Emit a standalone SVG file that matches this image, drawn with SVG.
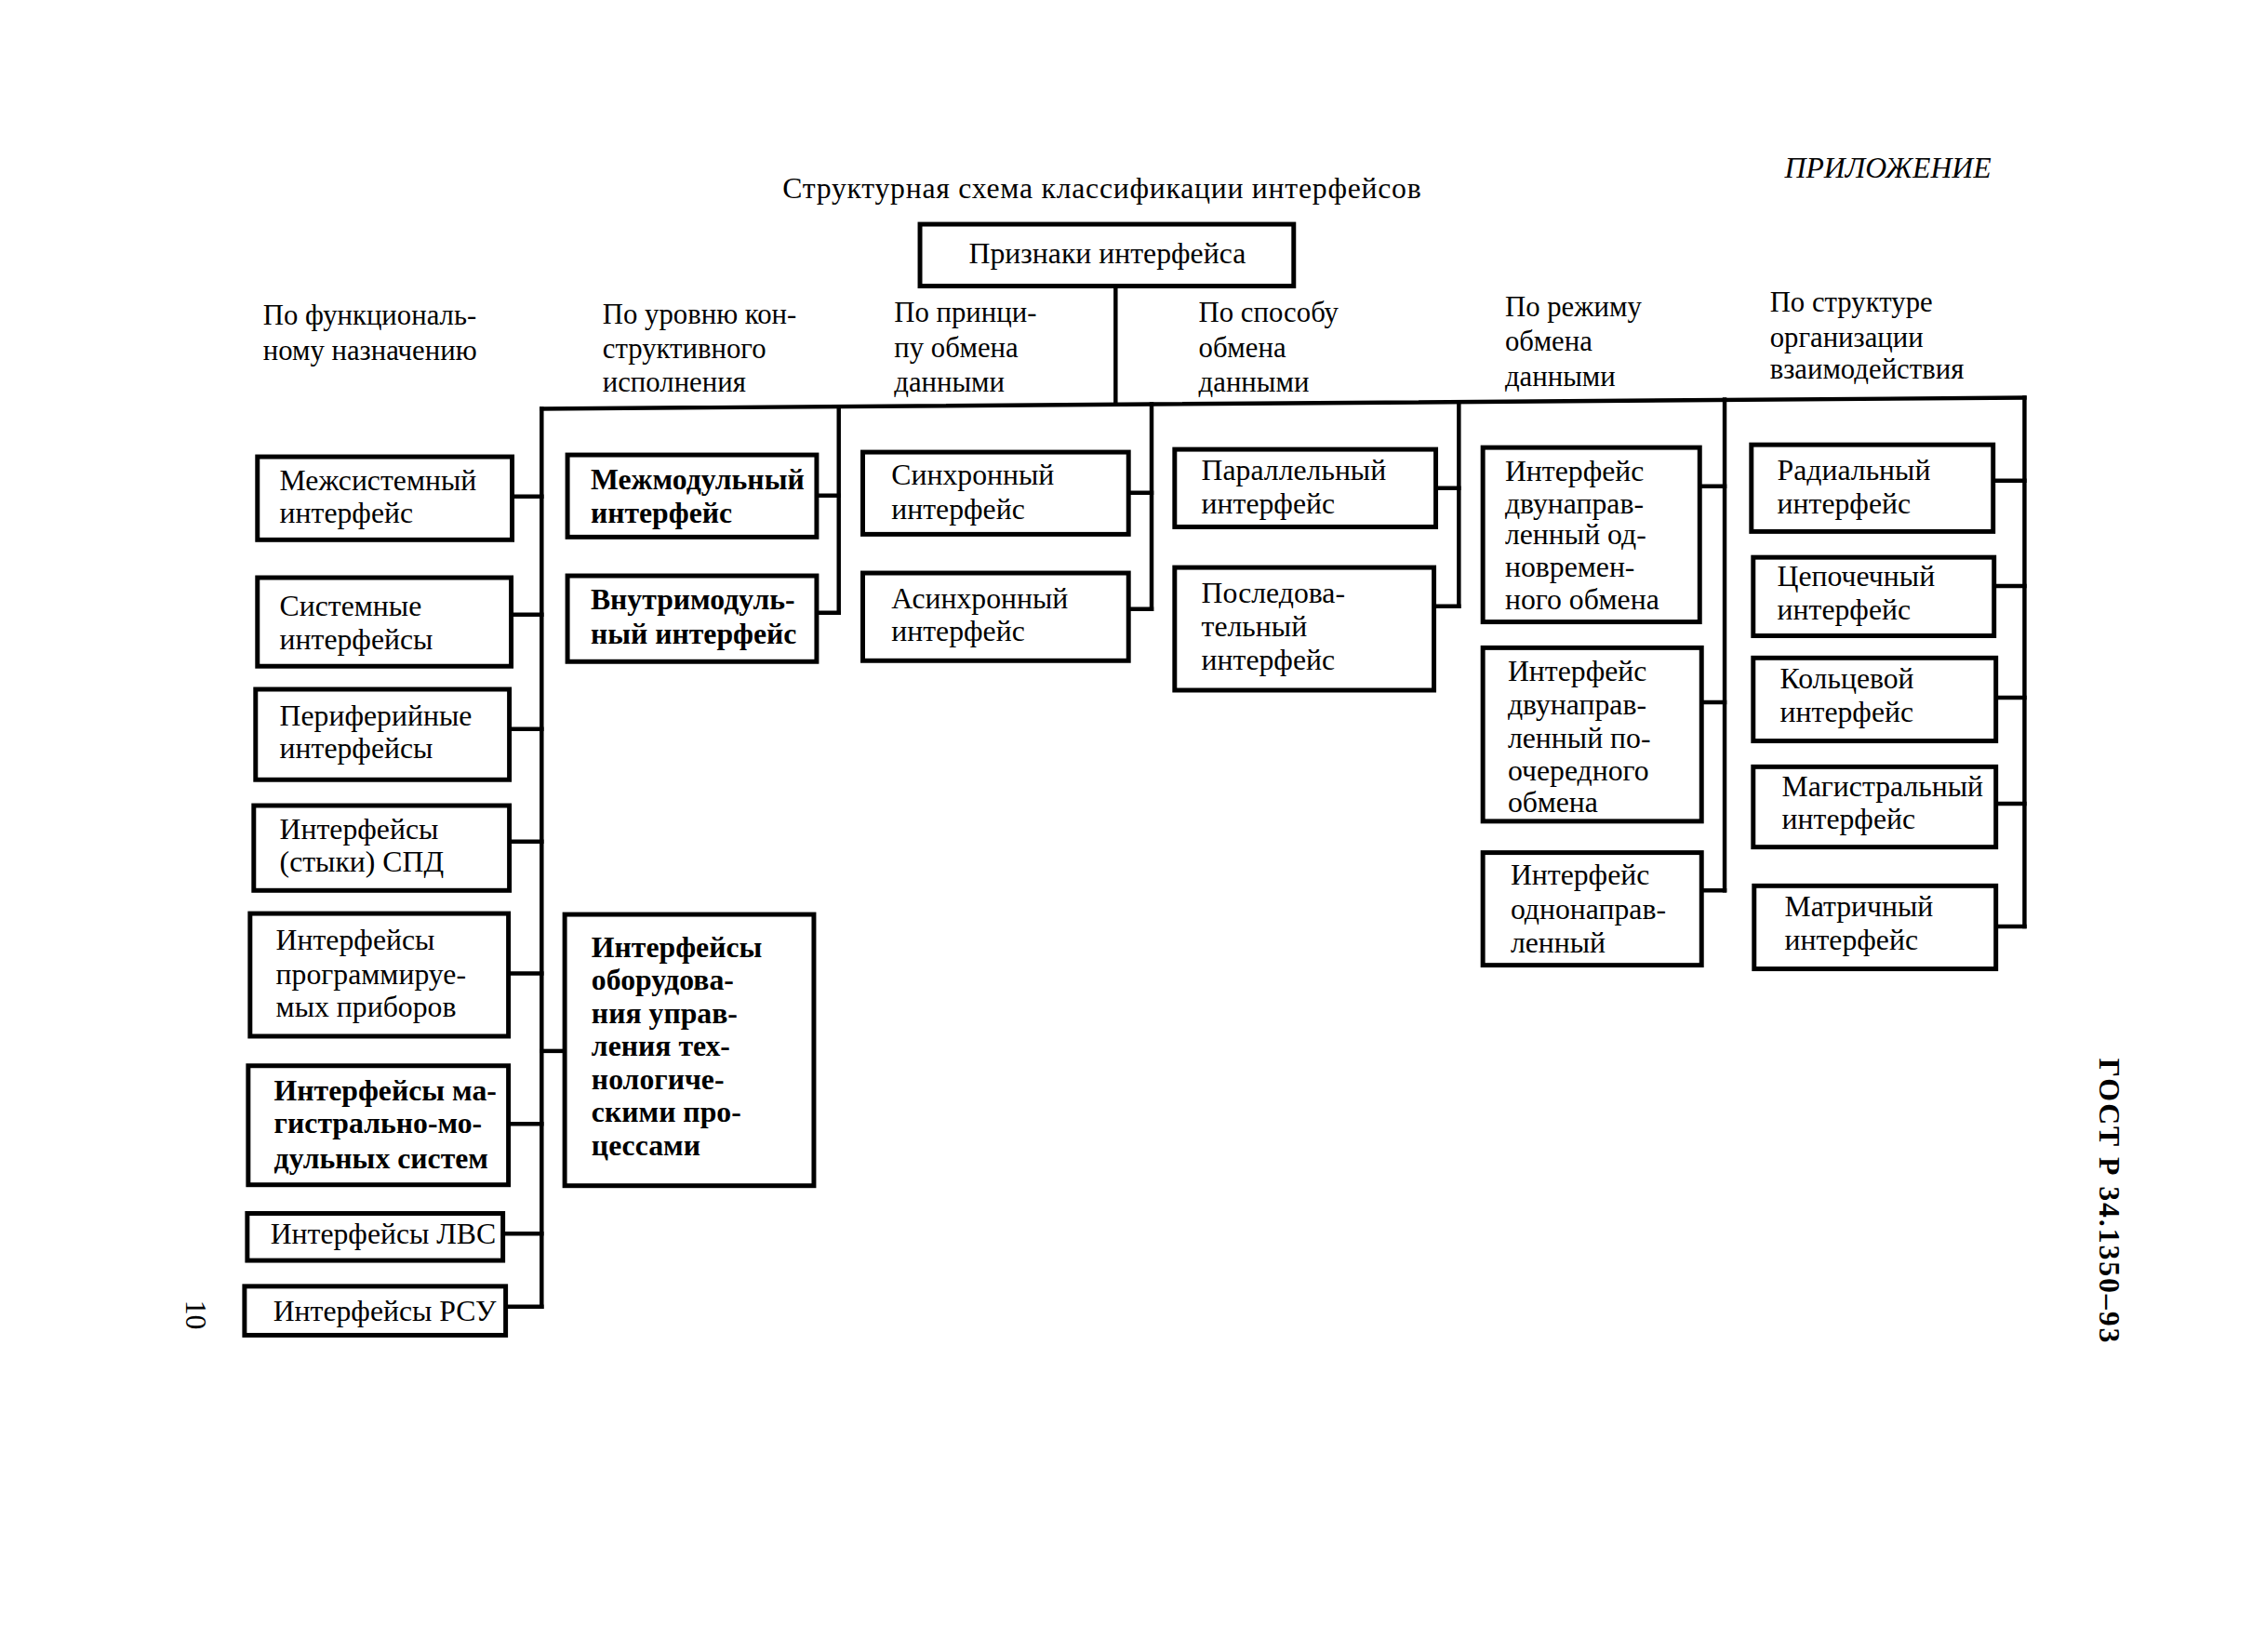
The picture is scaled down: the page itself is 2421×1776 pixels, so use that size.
<svg xmlns="http://www.w3.org/2000/svg" width="2421" height="1776" viewBox="0 0 2421 1776">
<style>
.box{fill:#fff;stroke:#000;stroke-width:5}
.c{fill:none;stroke:#000;stroke-width:4.5;stroke-linejoin:miter;stroke-linecap:square}
text{font-family:"Liberation Serif","Times New Roman",serif;font-size:32px;fill:#000}
.b{font-weight:bold}
.lbl{font-size:31px}
</style>
<rect width="2421" height="1776" fill="#fff"/>
<g id="diagram" transform="scale(0.992)">
<text id="title" x="848" y="215" textLength="692">Структурная схема классификации интерфейсов</text>
<text id="appendix" x="1934" y="193" font-style="italic" font-size="33">ПРИЛОЖЕНИЕ</text>
<text id="pagenum" transform="translate(213,1425) rotate(90)" x="0" y="11" text-anchor="middle">10</text>
<text id="gost" transform="translate(2287,1301) rotate(90)" x="0" y="12" text-anchor="middle" class="b" font-size="35" textLength="308">ГОСТ Р 34.1350–93</text>

<g id="connectors">
<path class="c" d="M1209,310 V438"/>
<path class="c" d="M587,443 L2194,431"/>
<path class="c" d="M587,443 V1416"/>
<path class="c" d="M909,441 V664"/>
<path class="c" d="M1248,438 V660"/>
<path class="c" d="M1581,436 V657"/>
<path class="c" d="M1869,433 V965"/>
<path class="c" d="M2194,431 V1004"/>
<path class="c" d="M555,538 H587 M554,666 H587 M552,790 H587 M552,912 H587 M551,1055 H587 M551,1218 H587 M545,1337 H587 M548,1416 H587"/>
<path class="c" d="M612,1139 H587"/>
<path class="c" d="M885,537 H909 M885,664 H909"/>
<path class="c" d="M1223,534 H1248 M1223,660 H1248"/>
<path class="c" d="M1556,529 H1581 M1554,657 H1581"/>
<path class="c" d="M1842,527 H1869 M1844,761 H1869 M1844,965 H1869"/>
<path class="c" d="M2160,521 H2194 M2161,635 H2194 M2163,756 H2194 M2163,871 H2194 M2163,1004 H2194"/>
</g>

<g id="root">
<rect class="box" x="997" y="243" width="405" height="67"/>
<text x="1200" y="285" text-anchor="middle">Признаки интерфейса</text>
</g>

<g id="cat1"><text class="lbl" x="285" y="352">По функциональ-<tspan x="285" y="390">ному назначению</tspan></text></g>
<g id="cat2"><text class="lbl" x="653" y="351">По уровню кон-<tspan x="653" y="388">структивного</tspan><tspan x="653" y="424">исполнения</tspan></text></g>
<g id="cat3"><text class="lbl" x="969" y="349">По принци-<tspan x="969" y="387">пу обмена</tspan><tspan x="969" y="424">данными</tspan></text></g>
<g id="cat4"><text class="lbl" x="1299" y="349">По способу<tspan x="1299" y="387">обмена</tspan><tspan x="1299" y="424">данными</tspan></text></g>
<g id="cat5"><text class="lbl" x="1631" y="343">По режиму<tspan x="1631" y="380">обмена</tspan><tspan x="1631" y="418">данными</tspan></text></g>
<g id="cat6"><text class="lbl" x="1918" y="338">По структуре<tspan x="1918" y="376">организации</tspan><tspan x="1918" y="410">взаимодействия</tspan></text></g>

<g id="n1"><rect class="box" x="279" y="495" width="276" height="90"/><text x="303" y="531">Межсистемный<tspan x="303" y="567">интерфейс</tspan></text></g>
<g id="n2"><rect class="box" x="279" y="626" width="275" height="96"/><text x="303" y="667">Системные<tspan x="303" y="704">интерфейсы</tspan></text></g>
<g id="n3"><rect class="box" x="277" y="747" width="275" height="98"/><text x="303" y="786">Периферийные<tspan x="303" y="822">интерфейсы</tspan></text></g>
<g id="n4"><rect class="box" x="275" y="873" width="277" height="92"/><text x="303" y="909">Интерфейсы<tspan x="303" y="945">(стыки) СПД</tspan></text></g>
<g id="n5"><rect class="box" x="271" y="990" width="280" height="133"/><text x="299" y="1029">Интерфейсы<tspan x="299" y="1067">программируе-</tspan><tspan x="299" y="1102">мых приборов</tspan></text></g>
<g id="n6"><rect class="box" x="269" y="1155" width="282" height="129"/><text class="b" x="297" y="1193">Интерфейсы ма-<tspan x="297" y="1228">гистрально-мо-</tspan><tspan x="297" y="1266">дульных систем</tspan></text></g>
<g id="n7"><rect class="box" x="268" y="1315" width="277" height="51"/><text x="293" y="1348">Интерфейсы ЛВС</text></g>
<g id="n8"><rect class="box" x="265" y="1394" width="283" height="53"/><text x="296" y="1431">Интерфейсы РСУ</text></g>

<g id="n9"><rect class="box" x="615" y="493" width="270" height="89"/><text class="b" x="640" y="530">Межмодульный<tspan x="640" y="567">интерфейс</tspan></text></g>
<g id="n10"><rect class="box" x="615" y="624" width="270" height="93"/><text class="b" x="640" y="660">Внутримодуль-<tspan x="640" y="698">ный интерфейс</tspan></text></g>
<g id="n11"><rect class="box" x="612" y="991" width="270" height="294"/><text class="b" x="641" y="1037">Интерфейсы<tspan x="641" y="1073">оборудова-</tspan><tspan x="641" y="1109">ния управ-</tspan><tspan x="641" y="1144">ления тех-</tspan><tspan x="641" y="1180">нологиче-</tspan><tspan x="641" y="1216">скими про-</tspan><tspan x="641" y="1252">цессами</tspan></text></g>

<g id="n12"><rect class="box" x="935" y="490" width="288" height="89"/><text x="966" y="525">Синхронный<tspan x="966" y="562">интерфейс</tspan></text></g>
<g id="n13"><rect class="box" x="935" y="621" width="288" height="95"/><text x="966" y="659">Асинхронный<tspan x="966" y="695">интерфейс</tspan></text></g>

<g id="n14"><rect class="box" x="1273" y="487" width="283" height="84"/><text x="1302" y="520">Параллельный<tspan x="1302" y="556">интерфейс</tspan></text></g>
<g id="n15"><rect class="box" x="1273" y="615" width="281" height="133"/><text x="1302" y="653">Последова-<tspan x="1302" y="690">тельный</tspan><tspan x="1302" y="726">интерфейс</tspan></text></g>

<g id="n16"><rect class="box" x="1607" y="485" width="235" height="189"/><text x="1631" y="521">Интерфейс<tspan x="1631" y="556">двунаправ-</tspan><tspan x="1631" y="590">ленный од-</tspan><tspan x="1631" y="625">новремен-</tspan><tspan x="1631" y="660">ного обмена</tspan></text></g>
<g id="n17"><rect class="box" x="1607" y="702" width="237" height="188"/><text x="1634" y="738">Интерфейс<tspan x="1634" y="774">двунаправ-</tspan><tspan x="1634" y="810">ленный по-</tspan><tspan x="1634" y="846">очередного</tspan><tspan x="1634" y="880">обмена</tspan></text></g>
<g id="n18"><rect class="box" x="1607" y="924" width="237" height="122"/><text x="1637" y="959">Интерфейс<tspan x="1637" y="996">однонаправ-</tspan><tspan x="1637" y="1032">ленный</tspan></text></g>

<g id="n19"><rect class="box" x="1898" y="482" width="262" height="94"/><text x="1926" y="520">Радиальный<tspan x="1926" y="556">интерфейс</tspan></text></g>
<g id="n20"><rect class="box" x="1900" y="604" width="261" height="85"/><text x="1926" y="635">Цепочечный<tspan x="1926" y="671">интерфейс</tspan></text></g>
<g id="n21"><rect class="box" x="1900" y="713" width="263" height="90"/><text x="1929" y="746">Кольцевой<tspan x="1929" y="782">интерфейс</tspan></text></g>
<g id="n22"><rect class="box" x="1900" y="831" width="263" height="87"/><text x="1931" y="863">Магистральный<tspan x="1931" y="898">интерфейс</tspan></text></g>
<g id="n23"><rect class="box" x="1901" y="960" width="262" height="90"/><text x="1934" y="993">Матричный<tspan x="1934" y="1029">интерфейс</tspan></text></g>
</g>
</svg>
